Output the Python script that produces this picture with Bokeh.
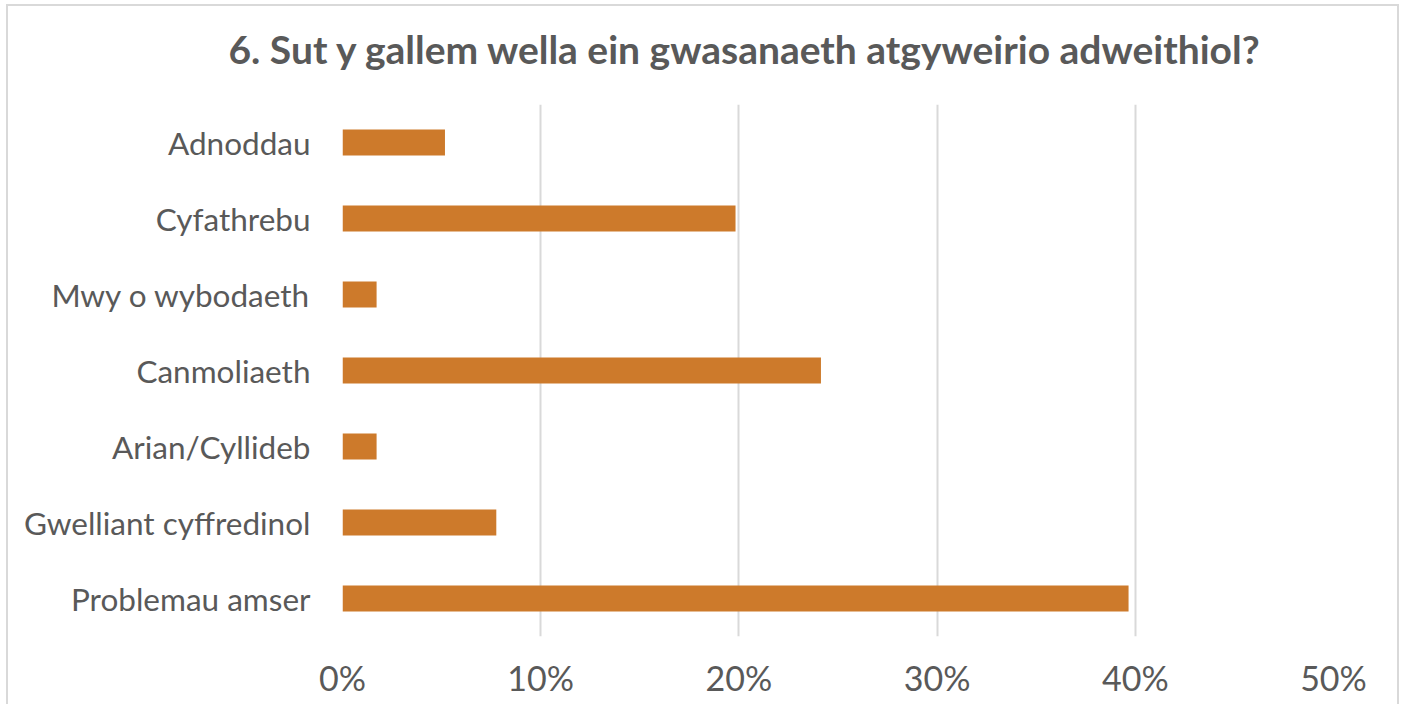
from bokeh.plotting import figure
from bokeh.models import FactorRange, Range1d, NumeralTickFormatter, Title, ColumnDataSource
from bokeh.embed import file_html
from bokeh.resources import INLINE

categories = ["Adnoddau", "Cyfathrebu", "Mwy o wybodaeth", "Canmoliaeth",
              "Arian/Cyllideb", "Gwelliant cyffredinol", "Problemau amser"]
values = [0.0517, 0.1983, 0.0172, 0.2414, 0.0172, 0.0776, 0.3966]
title_text = "6. Sut y gallem wella ein gwasanaeth atgyweirio adweithiol?"
x_ticks = [0, 0.1, 0.2, 0.3, 0.4, 0.5]

src = ColumnDataSource(dict(cat=categories, val=values))

p = figure(width=1393, height=700, output_backend="svg", toolbar_location=None,
           y_range=FactorRange(factors=list(reversed(categories))),
           x_range=Range1d(0, 0.5), title=None)
p.styles = {"border-top": "2px solid #d9d9d9", "border-left": "2px solid #d9d9d9",
            "border-right": "2px solid #d9d9d9", "margin-left": "6px", "margin-top": "4px"}

p.min_border_left = 334
p.min_border_right = 68
p.min_border_top = 98
p.min_border_bottom = 70

# spacer between frame and title
spacer = Title(text=" ", text_font_size="1px", standoff=30)
p.add_layout(spacer, "above")
t = Title(text=title_text, align="left", offset=-114, standoff=0,
          text_font="Lato", text_font_size="39px", text_font_style="bold",
          text_color="#595959")
p.add_layout(t, "above")

p.hbar(y="cat", right="val", left=0, height=0.34, source=src,
       fill_color="#CD7A2B", line_color=None)

p.outline_line_color = None
p.ygrid.grid_line_color = None
p.xgrid.grid_line_color = "#d9d9d9"
p.xgrid.grid_line_width = 2
p.xaxis.ticker = x_ticks
p.xaxis.formatter = NumeralTickFormatter(format="0%")
for ax in (p.xaxis, p.yaxis):
    ax.axis_line_color = None
    ax.major_tick_line_color = None
    ax.minor_tick_line_color = None
    ax.major_label_text_color = "#595959"
    ax.major_label_text_font = "Lato"

p.xaxis.major_label_text_font_size = "34px"
p.xaxis.major_label_standoff = 14
p.yaxis.major_label_text_font_size = "31.5px"
p.yaxis.major_label_standoff = 26

open("out.html", "w").write(file_html(p, INLINE))
